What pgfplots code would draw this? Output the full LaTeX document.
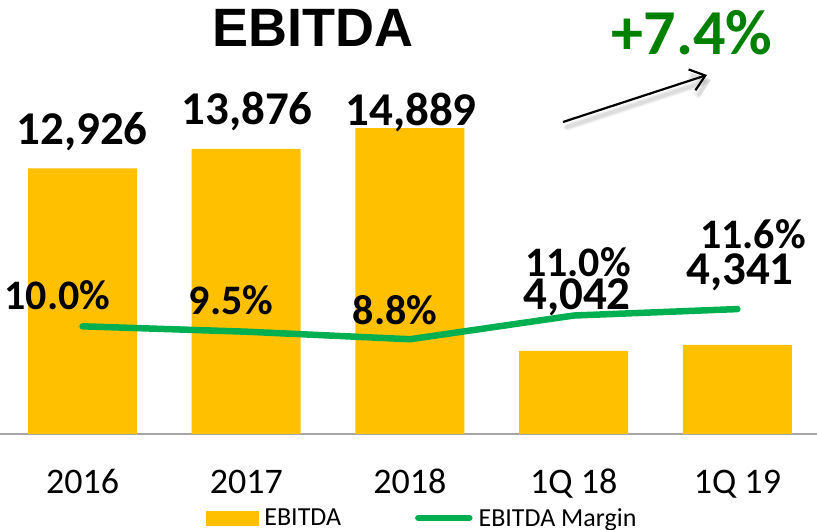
\documentclass[border=0pt]{standalone}
\usepackage{pgfplots}
\pgfplotsset{compat=1.18}
\usepackage{fontspec}
\setmainfont{Carlito}
\newfontfamily\arialfont{Liberation Sans}
\usetikzlibrary{arrows.meta}
\definecolor{barcol}{HTML}{FFC000}
\definecolor{linecol}{HTML}{00B050}
\definecolor{growcol}{HTML}{008000}
\definecolor{axcol}{HTML}{A6A6A6}
\newcommand{\fs}[1]{\fontsize{#1}{#1}\selectfont}
\begin{document}
\begin{tikzpicture}[x=1pt,y=1pt]
\pgfplotsset{
  base/.style={
    scale only axis, width=817pt, height=434pt,
    at={(0pt,96pt)}, anchor=south west,
    xmin=-0.504, xmax=4.486, clip=false,
  }
}
\begin{axis}[base, ymin=0, ymax=21120,
  axis x line*=bottom, axis y line=none,
  x axis line style={draw=axcol, line width=1.5pt, -},
  xtick={0,1,2,3,4}, xticklabels={2016,2017,2018,1Q 18,1Q 19},
  major tick length=0pt,
  xticklabel style={font=\fs{36}, anchor=base, yshift=-60pt, inner sep=0pt},
  ytick=\empty,
]
\addplot[ybar, bar width=109pt, fill=barcol, draw=none] coordinates {(0,12926) (1,13876) (2,14889) (3,4042) (4,4341)};
\end{axis}
\begin{axis}[base, ymin=0, ymax=40.3, axis lines=none,
  legend style={at={(0.2521,-0.1935)}, anchor=west, draw=none, fill=none,
    inner sep=0pt, outer sep=0pt, legend columns=2, font=\fs{26},
    nodes={inner sep=0pt, anchor=west},
    /tikz/every odd column/.append style={column sep=6pt},
    /tikz/every even column/.append style={column sep=74pt}},
]
\addlegendimage{legend image code/.code={\fill[barcol] (0pt,-7pt) rectangle (52pt,7pt);}}
\addlegendentry{EBITDA}
\addplot[linecol, line width=6.5pt, line cap=round, line join=round,
  legend image code/.code={\draw[linecol, line width=6.5pt, line cap=round] (3pt,0pt) -- (54pt,0pt);}]
  coordinates {(0,10.0) (1,9.5) (2,8.8) (3,11.0) (4,11.6)};
\addlegendentry{EBITDA Margin}
\end{axis}
% value labels
\begin{scope}[every node/.style={inner sep=0pt, anchor=base}]
\node[font=\bfseries\fs{47}] at (82,385) {12,926};
\node[font=\bfseries\fs{47}] at (247,405) {13,876};
\node[font=\bfseries\fs{47}] at (411,404) {14,889};
\node[font=\bfseries\fs{47}] at (577,220) {4,042};
\node[font=\bfseries\fs{47}] at (740,245) {4,341};
\node[font=\bfseries\fs{42}] at (57.5,220) {10.0\%};
\node[font=\bfseries\fs{42}] at (231,215) {9.5\%};
\node[font=\bfseries\fs{42}] at (395,205) {8.8\%};
\node[font=\bfseries\fs{42}] at (578,253) {11.0\%};
\node[font=\bfseries\fs{42}] at (753,281) {11.6\%};
\node[font=\arialfont\bfseries\fs{54}] at (312.5,483) {EBITDA};
\node[font=\bfseries\fs{64}, text=growcol] at (692,475) {+7.4\%};
\end{scope}
\begin{scope}[shift={(4,-5)}]
\draw[black, opacity=0.06, line width=7pt, line cap=round, -{Straight Barb[length=14pt,width=22pt]}] (563,408) -- (707,455);
\draw[black, opacity=0.08, line width=4pt, line cap=round, -{Straight Barb[length=14pt,width=22pt]}] (563,408) -- (707,455);
\end{scope}
\draw[black, line width=2.2pt, -{Straight Barb[length=14pt,width=22pt]}] (563,408) -- (707,455);
\pgfresetboundingbox
\path (0,0) rectangle (817,530);
\end{tikzpicture}
\end{document}
